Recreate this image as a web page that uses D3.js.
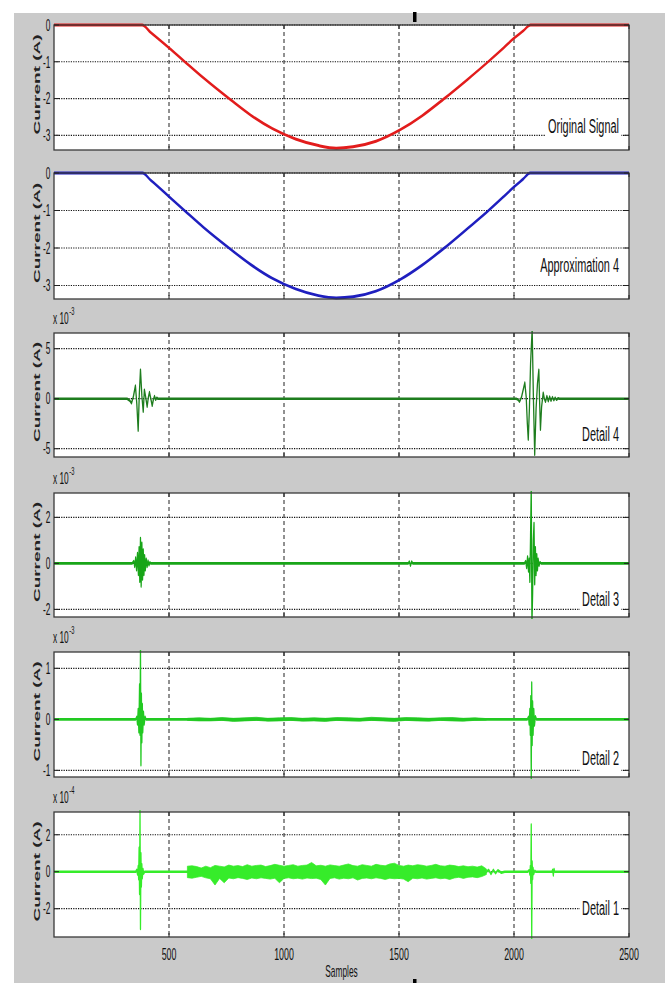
<!DOCTYPE html>
<html>
<head>
<meta charset="utf-8">
<script src="https://cdn.jsdelivr.net/npm/d3@7"></script>
<style>
  html, body { margin: 0; padding: 0; background: #fff; }
  svg { display: block; }
  text { font-family: "Liberation Sans", Arial, sans-serif; }
</style>
</head>
<body>
<div id="vis"><svg width="665" height="983"></svg></div>
<script>
// ---- data (samples on x, current on y; detail panels in units of the x10^n label) ----
const sampleTicks = [500, 1000, 1500, 2000, 2500];
const panelTitles = ["Original Signal", "Approximation 4", "Detail 4", "Detail 3", "Detail 2", "Detail 1"];
const yTickSets = [[0, -1, -2, -3], [0, -1, -2, -3], [-5, 0, 5], [-2, 0, 2], [-1, 0, 1], [-2, 0, 2]];
const yExtents = [[-3.4, 0], [-3.36, 0], [-5.83, 6.57], [-2.33, 3.06], [-1.13, 1.32], [-3.53, 3.23]];
const exponents = [null, null, -3, -3, -3, -4];

const originalSignal = [[0, 0], [383, 0], [420, -0.2], [450, -0.36], [500, -0.62], [569, -1.0], [650, -1.44],
  [767, -2.03], [855, -2.45], [950, -2.82], [1050, -3.1], [1150, -3.28], [1227, -3.35], [1300, -3.31],
  [1400, -3.16], [1508, -2.84], [1600, -2.47], [1693, -2.02], [1800, -1.47], [1884, -1.02], [1955, -0.62],
  [2000, -0.36], [2040, -0.16], [2072, 0], [2500, 0]];

const approximation4 = [[0, 0], [385, 0], [420, -0.19], [450, -0.35], [500, -0.63], [569, -1.01], [650, -1.45],
  [767, -2.03], [855, -2.44], [950, -2.81], [1050, -3.09], [1150, -3.27], [1227, -3.33], [1300, -3.3],
  [1400, -3.15], [1508, -2.83], [1600, -2.46], [1693, -2.02], [1800, -1.47], [1884, -1.03], [1955, -0.63],
  [2000, -0.37], [2040, -0.16], [2070, 0], [2500, 0]];

const detail4 = [[0, 0], [318, 0], [330, -0.2], [337, -0.45], [345, 0.2], [354, 1.3], [360, -0.5], [366, -3.2],
  [371, 0.5], [376, 2.9], [382, 0.3], [388, -1.3], [393, 0.9], [399, 0.1], [405, -0.8], [410, 0.1], [415, 0.65],
  [421, 0], [427, -0.7], [432, -0.1], [437, 0.25], [442, -0.1], [447, 0.1], [452, 0],
  [2010, 0], [2018, -0.1], [2024, -0.3], [2032, 0.1], [2040, 0.9], [2047, 1.6], [2053, 0.2], [2058, -2.5],
  [2062, -4.1], [2067, -1.0], [2072, 3.5], [2079, 7.0], [2084, 0.5], [2090, -5.6], [2096, -1.0], [2102, 1.5],
  [2108, 2.9], [2111, 0], [2115, -3.1], [2120, -0.8], [2127, 0.6], [2132, 0], [2137, -0.3], [2143, 0.25],
  [2149, -0.25], [2155, 0.2], [2161, -0.2], [2167, 0.15], [2173, -0.15], [2179, 0.1], [2185, -0.1],
  [2192, 0.05], [2198, 0], [2500, 0]];

const detail3 = [[0, 0], [340, 0], [347, 0.1], [351, -0.15], [355, 0.25], [359, -0.3], [363, 0.45], [367, -0.5],
  [370, 0.7], [373, -0.8], [376, 1.1], [379, -1.0], [382, 0.9], [385, -0.7], [388, 0.6], [391, -0.5],
  [394, 0.35], [397, -0.3], [401, 0.2], [405, -0.15], [409, 0.12], [413, -0.08], [417, 0.05], [421, 0],
  [1540, 0], [1545, 0.08], [1550, -0.1], [1555, 0.08], [1560, 0],
  [2045, 0], [2051, 0.1], [2055, -0.2], [2059, 0.3], [2063, -0.35], [2066, 0.2], [2069, -0.8], [2072, 1.2],
  [2075, 3.3], [2078, -2.6], [2081, -1.3], [2084, 1.0], [2087, 1.75], [2090, -0.9], [2093, 0.7], [2096, -0.5],
  [2099, 0.4], [2102, -0.3], [2105, 0.2], [2109, -0.1], [2113, 0.05], [2118, 0], [2500, 0]];

const detail2 = [[0, 0], [355, 0], [360, 0.05], [363, -0.1], [366, 0.2], [369, -0.25], [372, 0.68], [374, -0.3],
  [376, 1.45], [378, -0.9], [380, 0.5], [382, -0.45], [384, 0.3], [386, -0.25], [389, 0.15], [392, -0.1],
  [396, 0.05], [400, 0],
  [2058, 0], [2063, 0.05], [2066, -0.1], [2069, 0.2], [2071, -0.3], [2073, 0.45], [2075, -1.2], [2077, 0.72],
  [2079, -0.5], [2081, 0.35], [2083, -0.3], [2086, 0.2], [2089, -0.12], [2093, 0.06], [2098, 0], [2500, 0]];

// [sample, upper, lower] envelope of the low-level ripple
const detail2Band = [[580, 0.02, -0.02], [630, 0.03, -0.03], [680, 0.02, -0.03], [730, 0.035, -0.02],
  [780, 0.02, -0.04], [830, 0.03, -0.03], [880, 0.04, -0.02], [930, 0.02, -0.035], [980, 0.03, -0.03],
  [1030, 0.035, -0.02], [1080, 0.02, -0.035], [1130, 0.03, -0.03], [1180, 0.02, -0.04], [1230, 0.035, -0.02],
  [1280, 0.03, -0.03], [1330, 0.02, -0.035], [1380, 0.04, -0.02], [1430, 0.03, -0.03], [1480, 0.02, -0.04],
  [1530, 0.035, -0.02], [1580, 0.03, -0.03], [1630, 0.02, -0.035], [1680, 0.03, -0.02], [1730, 0.035, -0.03],
  [1780, 0.02, -0.035], [1830, 0.03, -0.02], [1880, 0.015, -0.015]];

const detail1 = [[0, 0], [355, 0], [360, 0.1], [363, -0.15], [366, 0.3], [368, -0.4], [370, 1.3], [372, -1.2],
  [374, 3.4], [376, -3.1], [378, 1.0], [380, -0.8], [382, 0.4], [384, -0.35], [387, 0.15], [390, -0.1], [394, 0],
  [1880, 0], [1890, 0.1], [1900, -0.12], [1910, 0.1], [1920, -0.08], [1930, 0.08], [1945, -0.05], [1960, 0],
  [2060, 0], [2066, 0.08], [2069, -0.15], [2071, 0.3], [2073, -0.6], [2075, 2.55], [2077, -3.7], [2079, 0.55],
  [2081, -0.4], [2083, 0.2], [2086, -0.12], [2090, 0.05], [2095, 0],
  [2165, 0], [2168, 0.1], [2171, -0.2], [2174, 0.15], [2177, 0], [2500, 0]];

const detail1Band = [[580, 0.30, -0.32], [600, 0.32, -0.35], [620, 0.28, -0.30], [640, 0.20, -0.25],
  [660, 0.30, -0.33], [680, 0.22, -0.38], [700, 0.34, -0.72], [720, 0.30, -0.36], [740, 0.26, -0.60],
  [760, 0.36, -0.34], [780, 0.30, -0.38], [800, 0.33, -0.32], [820, 0.28, -0.36], [840, 0.38, -0.42],
  [860, 0.30, -0.34], [880, 0.34, -0.38], [900, 0.36, -0.33], [920, 0.28, -0.36], [940, 0.33, -0.40],
  [960, 0.40, -0.35], [980, 0.35, -0.60], [1000, 0.30, -0.36], [1020, 0.34, -0.33], [1040, 0.38, -0.38],
  [1060, 0.30, -0.35], [1080, 0.34, -0.40], [1100, 0.36, -0.34], [1120, 0.50, -0.37], [1140, 0.32, -0.35],
  [1160, 0.35, -0.42], [1180, 0.30, -0.72], [1200, 0.37, -0.36], [1220, 0.33, -0.33], [1240, 0.30, -0.40],
  [1260, 0.36, -0.35], [1280, 0.42, -0.38], [1300, 0.33, -0.33], [1320, 0.30, -0.45], [1340, 0.38, -0.36],
  [1360, 0.34, -0.34], [1380, 0.30, -0.38], [1400, 0.40, -0.33], [1420, 0.35, -0.36], [1440, 0.32, -0.42],
  [1460, 0.42, -0.35], [1480, 0.46, -0.38], [1500, 0.34, -0.36], [1520, 0.30, -0.40], [1540, 0.36, -0.54],
  [1560, 0.32, -0.35], [1580, 0.38, -0.38], [1600, 0.35, -0.34], [1620, 0.30, -0.40], [1640, 0.34, -0.36],
  [1660, 0.40, -0.33], [1680, 0.32, -0.38], [1700, 0.30, -0.35], [1720, 0.36, -0.42], [1740, 0.33, -0.34],
  [1760, 0.28, -0.30], [1780, 0.32, -0.36], [1800, 0.27, -0.30], [1820, 0.30, -0.28], [1840, 0.25, -0.32],
  [1860, 0.32, -0.26], [1880, 0.15, -0.15]];

const panelSeries = [originalSignal, approximation4, detail4, detail3, detail2, detail1];
const panelBands = [null, null, null, null, detail2Band, detail1Band];

// ---- layout ----
const LEFT = 54, RIGHT = 629;
const PANEL_TOPS = [25, 173, 333, 493, 652, 812];
const PANEL_BOTTOMS = [150, 299, 457, 617, 777, 937];
const TITLE_BASELINES = [133, 272, 441, 606, 765, 915];
const LINE_COLORS = ["#e21c1c", "#1f1fbf", "#1e7d1e", "#18a518", "#22c922", "#36ec2a"];
const SQUEEZE = 0.5;   // figure was squashed horizontally
const TEXT_SQUEEZE = 0.52;

class SignalPanel {

  #chart;
  #top;
  #bottom;
  #x;
  #xInner;
  #y;
  #index;

  constructor(svg, index, extent) {
    this.#index = index;
    this.#top = PANEL_TOPS[index];
    this.#bottom = PANEL_BOTTOMS[index];
    this.#chart = svg.append("g").attr("class", `panel-${index}`);

    this.#x = d3.scaleLinear().domain([0, 2500]).range([LEFT, RIGHT]);
    this.#xInner = d3.scaleLinear().domain([0, 2500]).range([0, (RIGHT - LEFT) / SQUEEZE]);
    this.#y = d3.scaleLinear().domain(extent).range([this.#bottom, this.#top]);
  }

  background() {
    this.#chart.append("rect")
      .attr("x", LEFT).attr("y", this.#top)
      .attr("width", RIGHT - LEFT).attr("height", this.#bottom - this.#top)
      .attr("fill", "#fff");
    return this;
  }

  grid(yTicks) {
    const g = this.#chart.append("g").attr("class", "grid");
    g.selectAll("line.v")
      .data(sampleTicks.slice(0, -1))
      .join("line")
      .attr("class", "v")
      .attr("x1", d => this.#x(d)).attr("x2", d => this.#x(d))
      .attr("y1", this.#top).attr("y2", this.#bottom)
      .attr("stroke", "#222").attr("stroke-width", 1)
      .attr("stroke-dasharray", "4,3");
    g.selectAll("line.h")
      .data(yTicks)
      .join("line")
      .attr("class", "h")
      .attr("x1", LEFT).attr("x2", RIGHT)
      .attr("y1", d => this.#y(d)).attr("y2", d => this.#y(d))
      .attr("stroke", "#111").attr("stroke-width", 1.2)
      .attr("stroke-dasharray", "1.2,1.2");
    return this;
  }

  #innerGroup() {
    const clipId = `clip-${this.#index}`;
    this.#chart.append("clipPath").attr("id", clipId)
      .append("rect")
      .attr("x", -2).attr("y", this.#top - 2)
      .attr("width", (RIGHT - LEFT) / SQUEEZE + 4)
      .attr("height", this.#bottom - this.#top + 4);
    return this.#chart.append("g")
      .attr("transform", `translate(${LEFT},0) scale(${SQUEEZE},1)`)
      .append("g")
      .attr("clip-path", `url(#${clipId})`);
  }

  series(points, band, color) {
    const inner = this.#innerGroup();
    if (band) {
      const area = d3.area()
        .x(d => this.#xInner(d[0]))
        .y0(d => this.#y(d[2]))
        .y1(d => this.#y(d[1]));
      inner.append("path")
        .attr("d", area(band))
        .attr("fill", color)
        .attr("stroke", color)
        .attr("stroke-width", 1);
    }
    const line = d3.line()
      .curve(this.#index < 2 ? d3.curveMonotoneX : d3.curveLinear)
      .x(d => this.#xInner(d[0]))
      .y(d => this.#y(d[1]));
    inner.append("path")
      .attr("d", line(points))
      .attr("fill", "none")
      .attr("stroke", color)
      .attr("stroke-width", this.#index < 2 ? 3 : 2.6)
      .attr("stroke-linejoin", "round");
    return this;
  }

  frame(yTicks) {
    const g = this.#chart.append("g").attr("class", "frame");
    g.append("rect")
      .attr("x", LEFT).attr("y", this.#top)
      .attr("width", RIGHT - LEFT).attr("height", this.#bottom - this.#top)
      .attr("fill", "none").attr("stroke", "#3a3a3a").attr("stroke-width", 1.3);
    g.selectAll("line.yt")
      .data(yTicks.flatMap(v => [[LEFT, v, 5], [RIGHT, v, -5]]))
      .join("line")
      .attr("class", "yt")
      .attr("x1", d => d[0]).attr("x2", d => d[0] + d[2])
      .attr("y1", d => this.#y(d[1])).attr("y2", d => this.#y(d[1]))
      .attr("stroke", "#222");
    g.selectAll("line.xt")
      .data(sampleTicks.flatMap(v => [[v, this.#bottom, -4], [v, this.#top, 4]]))
      .join("line")
      .attr("class", "xt")
      .attr("x1", d => this.#x(d[0])).attr("x2", d => this.#x(d[0]))
      .attr("y1", d => d[1]).attr("y2", d => d[1] + d[2])
      .attr("stroke", "#222");
    return this;
  }

  yLabels(yTicks) {
    this.#chart.append("g")
      .selectAll("g")
      .data(yTicks)
      .join("g")
      .attr("transform", d => `translate(50.5,${this.#y(d)}) scale(${TEXT_SQUEEZE},1)`)
      .append("text")
      .attr("text-anchor", "end")
      .attr("dy", "0.36em")
      .attr("font-size", 16)
      .attr("fill", "#111")
      .text(d => String(d));

    this.#chart.append("g")
      .attr("transform", `translate(39.5,${(this.#top + this.#bottom) / 2 - 3}) scale(${TEXT_SQUEEZE},1) rotate(-90)`)
      .append("text")
      .attr("text-anchor", "middle")
      .attr("font-size", 19)
      .attr("font-weight", "bold")
      .attr("fill", "#222")
      .text("Current (A)");
    return this;
  }

  exponent(exp) {
    if (exp === null) return this;
    const g = this.#chart.append("g")
      .attr("transform", `translate(53,${this.#top - 9}) scale(${TEXT_SQUEEZE},1)`);
    const base = g.append("text")
      .attr("font-size", 16).attr("fill", "#111")
      .text("x 10");
    const w = base.node().getBBox().width;
    g.append("text")
      .attr("x", w + 1).attr("y", -9)
      .attr("font-size", 11).attr("fill", "#111")
      .text(String(exp));
    return this;
  }

  title(label) {
    const g = this.#chart.append("g")
      .attr("transform", `translate(619,${TITLE_BASELINES[this.#index]}) scale(${TEXT_SQUEEZE},1)`);
    const box = g.append("rect").attr("fill", "#fff");
    const t = g.append("text")
      .attr("text-anchor", "end")
      .attr("font-size", 21)
      .attr("fill", "#111")
      .text(label);
    const bb = t.node().getBBox();
    box.attr("x", bb.x - 4).attr("y", bb.y - 1)
      .attr("width", bb.width + 8).attr("height", bb.height + 2);
    return this;
  }

  xLabels() {
    this.#chart.append("g")
      .selectAll("g")
      .data(sampleTicks)
      .join("g")
      .attr("transform", d => `translate(${this.#x(d)},${this.#bottom + 22.5}) scale(${TEXT_SQUEEZE},1)`)
      .append("text")
      .attr("text-anchor", "middle")
      .attr("font-size", 17)
      .attr("fill", "#111")
      .text(d => d);

    this.#chart.append("g")
      .attr("transform", `translate(${(LEFT + RIGHT) / 2},${this.#bottom + 40}) scale(${TEXT_SQUEEZE},1)`)
      .append("text")
      .attr("text-anchor", "middle")
      .attr("font-size", 16)
      .attr("fill", "#111")
      .text("Samples");
    return this;
  }
}

const svg = d3.select("#vis").select("svg");

// figure background (MATLAB grey), white margin top/left
svg.append("rect").attr("width", 665).attr("height", 983).attr("fill", "#fff");
svg.append("rect").attr("x", 14).attr("y", 13).attr("width", 651).attr("height", 970).attr("fill", "#cacaca");

panelTitles.forEach((name, i) => {
  const panel = new SignalPanel(svg, i, yExtents[i])
    .background()
    .grid(yTickSets[i])
    .series(panelSeries[i], panelBands[i], LINE_COLORS[i])
    .frame(yTickSets[i])
    .yLabels(yTickSets[i])
    .exponent(exponents[i])
    .title(name);
  if (i === panelTitles.length - 1) panel.xLabels();
});

// stray marks from the original capture
svg.append("rect").attr("x", 413).attr("y", 12).attr("width", 3.5).attr("height", 10).attr("fill", "#000");
svg.append("rect").attr("x", 413).attr("y", 979).attr("width", 3.5).attr("height", 4).attr("fill", "#000");
</script>
</body>
</html>
